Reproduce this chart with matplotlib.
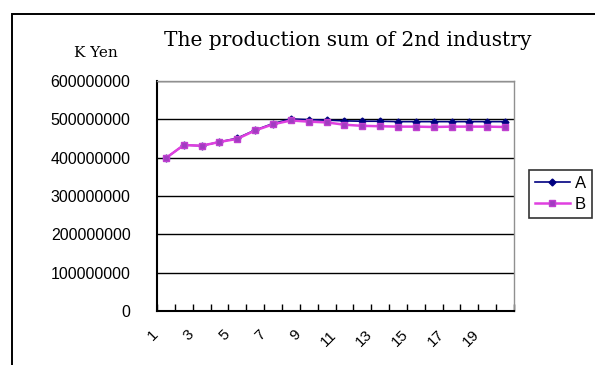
import numpy as np
import matplotlib
matplotlib.use("Agg")
import matplotlib.pyplot as plt
from matplotlib.patches import Rectangle
from matplotlib.ticker import FixedLocator, FuncFormatter
from matplotlib.transforms import ScaledTranslation

# production sum per period, in K Yen
periods = list(range(1, 21))
series_a = [399, 433, 431, 441, 451, 472, 489, 501, 499, 498,
            496, 495, 495, 494, 494, 494, 494, 494, 494, 494]
series_b = [399, 433, 431, 441, 449, 471, 487, 497, 494, 492,
            486, 483, 482, 481, 481, 480, 481, 481, 481, 480]
series_a = [v * 1_000_000 for v in series_a]
series_b = [v * 1_000_000 for v in series_b]
y_ticks = [0, 100000000, 200000000, 300000000, 400000000, 500000000, 600000000]
x_labels = [str(p) for p in periods[::2]]

W, H = 595, 365
fig = plt.figure(figsize=(W / 100, H / 100), dpi=100)

# outer chart border (runs off the right/bottom edge)
fig.patches.append(Rectangle((12 / W, -0.2), 2.0, 1.2 - 14 / H, transform=fig.transFigure,
                             fill=False, edgecolor="black", linewidth=1.4))

ax = fig.add_axes([157 / W, 1 - 311 / H, (514 - 157) / W, (311 - 81) / H])

ax.plot(periods, series_a, color="#000080", linewidth=1.2, marker="D", markersize=3.5,
        markerfacecolor="#000080", markeredgecolor="#000080", label="A", zorder=3)
ax.plot(periods, series_b, color="#e040e0", linewidth=1.8, marker="s", markersize=5,
        markerfacecolor="#a03cc0", markeredgecolor="#c040d0", label="B", zorder=4)

ax.set_xlim(0.5, 20.5)
ax.set_ylim(0, 600000000)
ax.yaxis.set_major_locator(FixedLocator(y_ticks))
ax.yaxis.set_major_formatter(FuncFormatter(lambda v, _: f"{int(v)}"))
ax.grid(axis="y", color="black", linewidth=1.0)
ax.set_axisbelow(True)

ax.set_xticks(periods[::2])
ax.set_xticklabels(x_labels, rotation=45, ha="right", va="top")
ax.set_xticks(np.arange(0.5, 21, 1), minor=True)
ax.tick_params(axis="x", which="major", length=0, pad=12, labelsize=11)
ax.tick_params(axis="x", which="minor", direction="in", length=5, width=1)
ax.tick_params(axis="y", length=0, pad=19, labelsize=11.5)
shift = ScaledTranslation(-5 / 100, 0, fig.dpi_scale_trans)
for lbl in ax.get_xticklabels():
    lbl.set_transform(lbl.get_transform() + shift)
for lbl in ax.get_yticklabels() + ax.get_xticklabels():
    lbl.set_fontfamily("Liberation Sans")

for side in ("left", "bottom"):
    ax.spines[side].set_color("black")
    ax.spines[side].set_linewidth(1.5)
for side in ("top", "right"):
    ax.spines[side].set_color("#909090")
    ax.spines[side].set_linewidth(1.0)

leg = ax.legend(loc="center left", bbox_to_anchor=(529 / W, 1 - 194 / H),
                bbox_transform=fig.transFigure, frameon=True, fancybox=False,
                prop={"family": "Liberation Sans", "size": 12}, handlelength=2.1,
                handletextpad=0.3, borderpad=0.35, labelspacing=0.35, borderaxespad=0)
leg.get_frame().set_edgecolor("black")
leg.get_frame().set_linewidth(1.2)

fig.text(348 / W, 1 - 40 / H, "The production sum of 2nd industry", ha="center", va="center",
         fontsize=14.5, family="DejaVu Serif")
fig.text(96 / W, 1 - 53 / H, "K Yen", ha="center", va="center", fontsize=11,
         family="DejaVu Serif")

fig.savefig("out.png", dpi=100)
